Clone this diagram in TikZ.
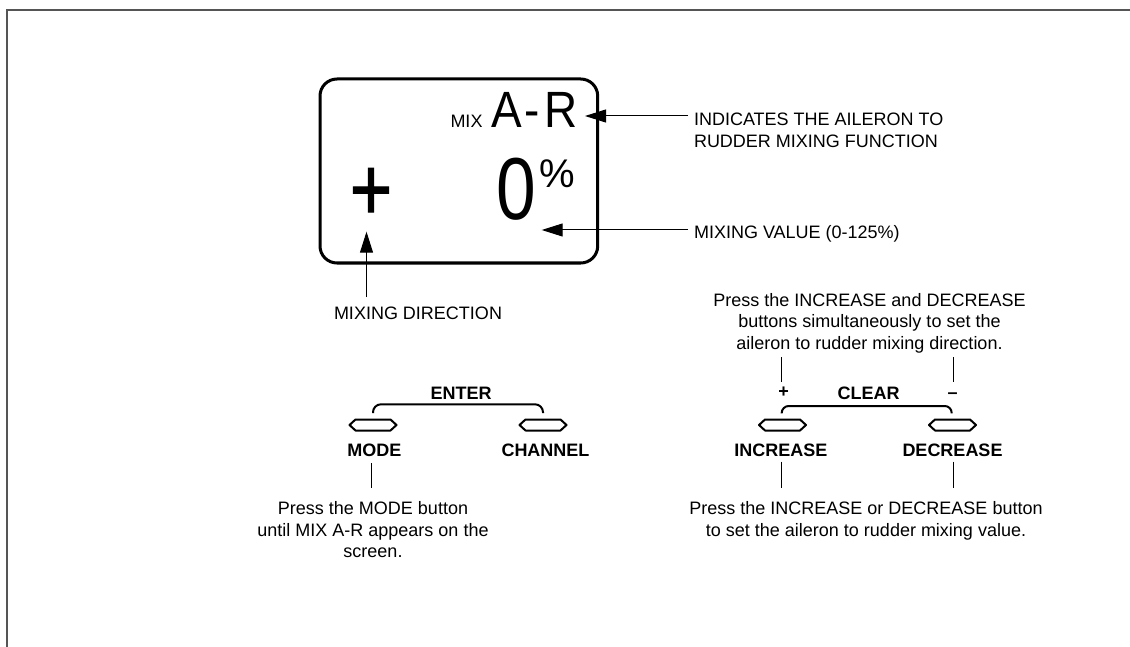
\documentclass[tikz,border=0pt]{standalone}
\usepackage{fontspec}
\setmainfont{Liberation Sans}
\newfontfamily\fontAR[FakeStretch=0.9]{Liberation Sans}
\newfontfamily\fontZ[FakeStretch=0.81]{Liberation Sans}
\newfontfamily\fontP[FakeStretch=0.8,FakeBold=1.2]{Liberation Sans}
\usetikzlibrary{arrows.meta}
\definecolor{framecol}{RGB}{85,85,85}
\begin{document}
\begin{tikzpicture}[x=1pt,y=-1pt, inner sep=0pt, outer sep=0pt,
  lbl/.style={font=\fontsize{18}{21.5}\selectfont},
  blbl/.style={font=\fontsize{18}{21.5}\selectfont\bfseries},
  conn/.style={line width=1pt},
  bracket/.style={line width=2pt, rounded corners=8pt},
  arr/.style={line width=1pt,-{Triangle[length=21pt,width=13pt]}},
  hexbtn/.pic={\draw[line width=2pt,line join=round] (-23.5,0) -- (-17.5,-5.5) -- (17.5,-5.5) -- (23.5,0) -- (17.5,5.5) -- (-17.5,5.5) -- cycle;}]
\useasboundingbox (0,0) rectangle (1130,647);
\draw[line width=2pt, color=framecol] (7,647) -- (7,10) -- (1130,10);

% display
\draw[line width=3pt, rounded corners=17pt] (320,79) rectangle (597.7,263);
\node[anchor=base west, font=\fontsize{18}{18}\selectfont] (mix) at (450.5,128) {MIX};
\node[anchor=base west, font={\fontAR\fontsize{51}{51}\selectfont}] (ar) at (491.5,128) {A\kern2.5pt-\kern4.5pt R};
\node[anchor=base west, font={\fontZ\fontsize{88}{88}\selectfont}] (zero) at (496,219.5) {0};
\node[anchor=base west, font=\fontsize{40}{40}\selectfont] (pct) at (539,187.5) {\%};
\node[anchor=base west, font={\fontP\fontsize{90}{90}\selectfont}] (plus) at (350,220) {+};

% callouts
\node[lbl, anchor=north west, align=left] (ind) at (694,113.3) {INDICATES THE AILERON TO\\RUDDER MIXING FUNCTION};
\node[lbl, anchor=base west] (val) at (694,239) {MIXING VALUE (0-125\%)};
\node[lbl, anchor=base] (dir) at (418,319.3) {MIXING DIRECTION};
\coordinate (indL) at (688,116);
\coordinate (arTip) at (585,116);
\coordinate (valL) at (688,230);
\coordinate (zeroTip) at (541.7,230);
\coordinate (dirT) at (366.5,297);
\coordinate (plusTip) at (366.5,231.7);
\draw[arr] (indL) -- (arTip);
\draw[arr] (valL) -- (zeroTip);
\draw[arr] (dirT) -- (plusTip);

% buttons
\coordinate (bMode) at (373,425);
\coordinate (bChan) at (543,425);
\coordinate (bInc) at (782.5,425);
\coordinate (bDec) at (952.5,425);
\pic at (bMode) {hexbtn};
\pic at (bChan) {hexbtn};
\pic at (bInc) {hexbtn};
\pic at (bDec) {hexbtn};

\node[blbl, anchor=base] (enter) at (461,399) {ENTER};
\node[blbl, anchor=base] (clear) at (868.7,399.3) {CLEAR};
\node[blbl, anchor=base] (mode) at (374.3,456.7) {MODE};
\node[blbl, anchor=base] (chan) at (545.5,456.7) {CHANNEL};
\node[blbl, anchor=base] (inc) at (780.8,456) {INCREASE};
\node[blbl, anchor=base] (dec) at (952.5,456) {DECREASE};
\node[blbl, anchor=center] (plussign) at (783.5,392) {+};
\node[blbl, anchor=center] (minussign) at (952.7,395.5) {--};

\coordinate (entL) at (373,413);
\coordinate (entR) at (543,413);
\draw[bracket] (entL) -- (373,404.3) -- (543,404.3) -- (entR);
\coordinate (clrL) at (781.7,413.3);
\coordinate (clrR) at (951.7,413.3);
\draw[bracket, rounded corners=7pt] (clrL) -- (781.7,406) -- (951.7,406) -- (clrR);

% instruction texts
\node[lbl, anchor=north, align=center] (settxt) at (869.5,293.3) {Press the INCREASE and DECREASE\\buttons simultaneously to set the\\aileron to rudder mixing direction.};
\node[lbl, anchor=north, align=center] (modetxt) at (373,501.7) {Press the MODE button\\until MIX A-R appears on the\\screen.};
\node[lbl, anchor=north, align=center] (valtxt) at (866,501.7) {Press the INCREASE or DECREASE button\\to set the aileron to rudder mixing value.};

\coordinate (sL1) at (781,357.3);
\coordinate (sL2) at (781,381.7);
\coordinate (sR1) at (953,357.3);
\coordinate (sR2) at (953,381.7);
\draw[conn] (sL1) -- (sL2);
\draw[conn] (sR1) -- (sR2);
\coordinate (mL1) at (371,463);
\coordinate (mL2) at (371,488);
\coordinate (iL1) at (781,461.7);
\coordinate (iL2) at (781,488);
\coordinate (dL1) at (953,461.7);
\coordinate (dL2) at (953,488);
\draw[conn] (mL1) -- (mL2);
\draw[conn] (iL1) -- (iL2);
\draw[conn] (dL1) -- (dL2);
\end{tikzpicture}
\end{document}
